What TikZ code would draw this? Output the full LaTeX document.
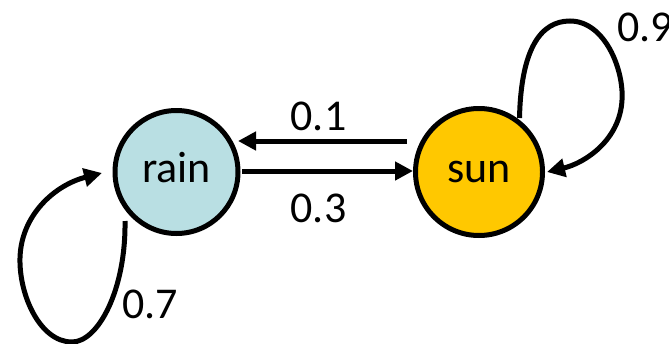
\documentclass[tikz,border=0pt]{standalone}
\usepackage{fontspec}
\setmainfont{Carlito}
\usetikzlibrary{arrows.meta}
\definecolor{raincol}{HTML}{B9DFE3}
\definecolor{suncol}{HTML}{FFC800}
\begin{document}
\begin{tikzpicture}[x=1pt,y=-1pt,
  state/.style={circle, draw=black, line width=5pt, minimum size=123pt,
    inner sep=0pt, text height=21pt, text depth=0pt,
    font=\fontsize{44}{50}\selectfont},
  edge/.style={line width=5pt, -{Triangle[length=18pt,width=18pt]}},
  prob/.style={font=\fontsize{44}{50}\selectfont, inner sep=0pt}]
  \useasboundingbox (0,0) rectangle (669,343);

  % states
  \node[state, fill=raincol] (rain) at (176.5,172) {rain};
  \node[state, fill=suncol, minimum size=127pt] (sun) at (479,172) {sun};

  % transitions between the two states
  \draw[edge] ([shift={(-72,-31)}]sun.center) -- ([shift={(61.5,-31)}]rain.center);
  \draw[edge] ([shift={(65.5,-1)}]rain.center) -- ([shift={(-66,-1)}]sun.center);

  % self loops
  \draw[edge] ([shift={(-51.5,49)}]rain.center)
    .. controls (126,290) and (98,342) .. (72,342)
    .. controls (40,342) and (19,295) .. (20,258)
    .. controls (21,215) and (55,185) .. ([shift={(-74.5,1)}]rain.center);
  \draw[edge] ([shift={(40.5,-54)}]sun.center)
    .. controls (521,50) and (540,21) .. (570,21)
    .. controls (605,21) and (624,70) .. (622,100)
    .. controls (620,140) and (585,163) .. ([shift={(68,0)}]sun.center);

  % transition probabilities
  \node[prob] (p01) at (318.5,116) {0.1};
  \node[prob] (p03) at (318.5,208) {0.3};
  \node[prob] (p07) at (150,304) {0.7};
  \node[prob] (p09) at (645,27.5) {0.9};
\end{tikzpicture}
\end{document}
